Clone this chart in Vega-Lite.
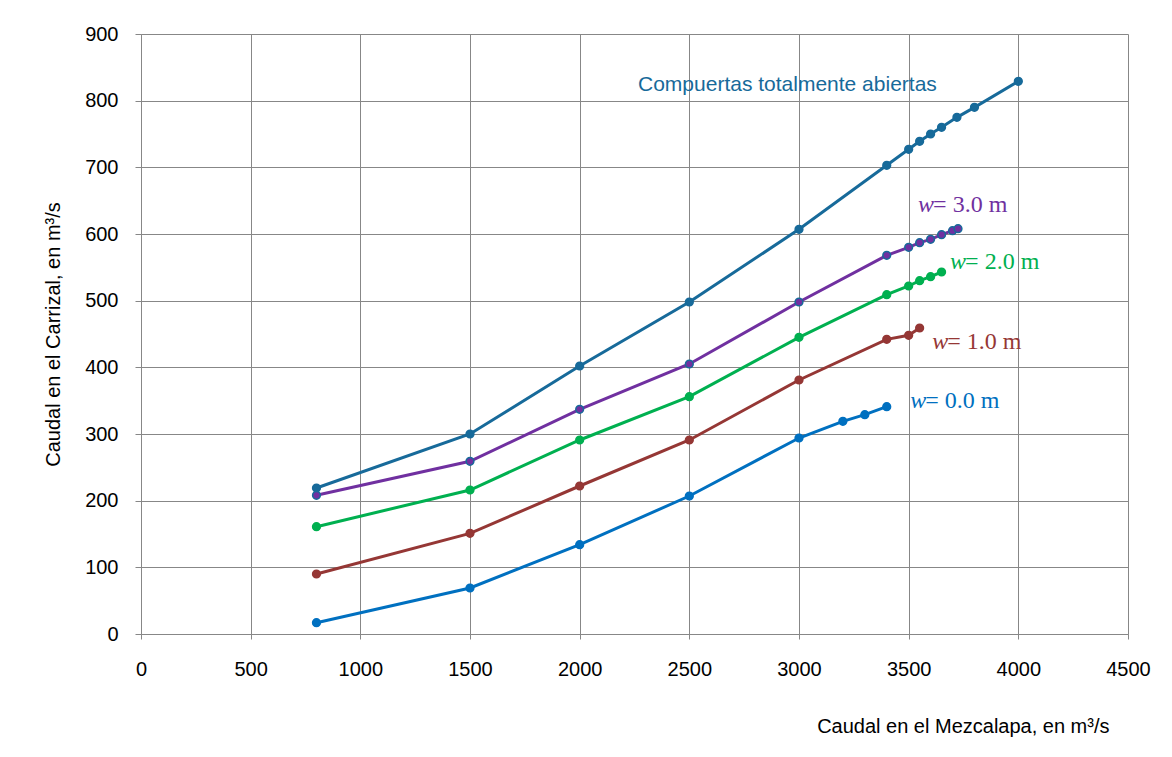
{
  "$schema": "https://vega.github.io/schema/vega-lite/v6.json",
  "width": 987,
  "height": 600,
  "autosize": {"type": "none"},
  "padding": {"left": 141, "top": 34, "right": 44, "bottom": 123},
  "background": "white",
  "config": {
    "view": {"stroke": null},
    "font": "Liberation Sans",
    "axis": {
      "gridColor": "#878787",
      "gridWidth": 1,
      "domainColor": "#878787",
      "tickColor": "#878787",
      "labelFont": "Liberation Sans",
      "labelFontSize": 20,
      "labelColor": "#000000",
      "labelFlush": false,
      "labelOverlap": false,
      "titleFont": "Liberation Sans",
      "titleFontSize": 20,
      "titleFontWeight": "normal",
      "titleColor": "#000000"
    }
  },
  "datasets": {
    "lines": [
      {"series": "abiertas", "q": 800, "c": 219},
      {"series": "abiertas", "q": 1500, "c": 300},
      {"series": "abiertas", "q": 2000, "c": 402},
      {"series": "abiertas", "q": 2500, "c": 498},
      {"series": "abiertas", "q": 3000, "c": 607},
      {"series": "abiertas", "q": 3400, "c": 703},
      {"series": "abiertas", "q": 3500, "c": 727},
      {"series": "abiertas", "q": 3550, "c": 739},
      {"series": "abiertas", "q": 3600, "c": 750},
      {"series": "abiertas", "q": 3650, "c": 760},
      {"series": "abiertas", "q": 3720, "c": 775},
      {"series": "abiertas", "q": 3800, "c": 790},
      {"series": "abiertas", "q": 4000, "c": 829},
      {"series": "w3", "q": 800, "c": 208},
      {"series": "w3", "q": 1500, "c": 259},
      {"series": "w3", "q": 2000, "c": 337},
      {"series": "w3", "q": 2500, "c": 405},
      {"series": "w3", "q": 3000, "c": 498},
      {"series": "w3", "q": 3400, "c": 568},
      {"series": "w3", "q": 3500, "c": 580},
      {"series": "w3", "q": 3550, "c": 587},
      {"series": "w3", "q": 3600, "c": 592},
      {"series": "w3", "q": 3650, "c": 599},
      {"series": "w3", "q": 3700, "c": 605},
      {"series": "w3", "q": 3725, "c": 608},
      {"series": "w2", "q": 800, "c": 161},
      {"series": "w2", "q": 1500, "c": 216},
      {"series": "w2", "q": 2000, "c": 291},
      {"series": "w2", "q": 2500, "c": 356},
      {"series": "w2", "q": 3000, "c": 445},
      {"series": "w2", "q": 3400, "c": 509},
      {"series": "w2", "q": 3500, "c": 522},
      {"series": "w2", "q": 3550, "c": 530},
      {"series": "w2", "q": 3600, "c": 536},
      {"series": "w2", "q": 3650, "c": 543},
      {"series": "w1", "q": 800, "c": 90},
      {"series": "w1", "q": 1500, "c": 151},
      {"series": "w1", "q": 2000, "c": 222},
      {"series": "w1", "q": 2500, "c": 291},
      {"series": "w1", "q": 3000, "c": 381},
      {"series": "w1", "q": 3400, "c": 442},
      {"series": "w1", "q": 3500, "c": 448},
      {"series": "w1", "q": 3550, "c": 459},
      {"series": "w0", "q": 800, "c": 17},
      {"series": "w0", "q": 1500, "c": 69},
      {"series": "w0", "q": 2000, "c": 134},
      {"series": "w0", "q": 2500, "c": 207},
      {"series": "w0", "q": 3000, "c": 294},
      {"series": "w0", "q": 3200, "c": 319},
      {"series": "w0", "q": 3300, "c": 329},
      {"series": "w0", "q": 3400, "c": 341}
    ],
    "wlabels": [
      {"series": "w3", "q": 3543, "c": 643, "pre": "w", "rest": "= 3.0 m"},
      {"series": "w2", "q": 3689, "c": 558, "pre": "w", "rest": "= 2.0 m"},
      {"series": "w1", "q": 3607, "c": 438, "pre": "w", "rest": "= 1.0 m"},
      {"series": "w0", "q": 3507, "c": 349, "pre": "w", "rest": "= 0.0 m"}
    ],
    "title": [
      {"series": "abiertas", "q": 2266, "c": 823, "label": "Compuertas totalmente abiertas"}
    ]
  },
  "layer": [
    {
      "data": {"name": "lines"},
      "mark": {"type": "line", "strokeWidth": 3},
      "encoding": {
        "x": {
          "field": "q", "type": "quantitative",
          "scale": {"domain": [0, 4500], "nice": false},
          "axis": {
            "values": [0, 500, 1000, 1500, 2000, 2500, 3000, 3500, 4000, 4500],
            "format": "d",
            "title": "Caudal en el Mezcalapa, en m³/s",
            "titleAlign": "right",
            "titleAnchor": null,
            "titleBaseline": "alphabetic",
            "titleX": 968,
            "titleY": 98,
            "tickSize": 5,
            "labelPadding": 20,
            "grid": true
          }
        },
        "y": {
          "field": "c", "type": "quantitative",
          "scale": {"domain": [0, 900], "nice": false},
          "axis": {
            "values": [0, 100, 200, 300, 400, 500, 600, 700, 800, 900],
            "format": "d",
            "title": "Caudal en el Carrizal, en m³/s",
            "tickSize": 6,
            "labelPadding": 17,
            "titlePadding": 21,
            "grid": true
          }
        },
        "color": {
          "field": "series", "type": "nominal",
          "scale": {"domain": ["abiertas", "w3", "w2", "w1", "w0"], "range": ["#176A9A", "#7030A0", "#00B050", "#953735", "#0070C0"]},
          "legend": null
        },
        "detail": {"field": "series"}
      }
    },
    {
      "data": {"name": "lines"},
      "mark": {"type": "point", "filled": true, "size": 60, "strokeWidth": 1.5, "opacity": 1},
      "encoding": {
        "x": {"field": "q", "type": "quantitative"},
        "y": {"field": "c", "type": "quantitative"},
        "fill": {
          "field": "series", "type": "nominal",
          "scale": {"domain": ["abiertas", "w3", "w2", "w1", "w0"], "range": ["#176A9A", "#7030A0", "#00B050", "#953735", "#0070C0"]},
          "legend": null
        },
        "stroke": {
          "field": "series", "type": "nominal",
          "scale": {"domain": ["abiertas", "w3", "w2", "w1", "w0"], "range": ["#176A9A", "#176A9A", "#00B050", "#953735", "#0070C0"]},
          "legend": null
        }
      }
    },
    {
      "data": {"name": "title"},
      "mark": {"type": "text", "align": "left", "baseline": "middle", "font": "Liberation Sans", "fontSize": 21},
      "encoding": {
        "x": {"field": "q", "type": "quantitative"},
        "y": {"field": "c", "type": "quantitative"},
        "text": {"field": "label"},
        "color": {"field": "series", "type": "nominal", "legend": null}
      }
    },
    {
      "data": {"name": "wlabels"},
      "mark": {"type": "text", "align": "left", "baseline": "middle", "font": "Liberation Serif", "fontSize": 24, "fontStyle": "italic"},
      "encoding": {
        "x": {"field": "q", "type": "quantitative"},
        "y": {"field": "c", "type": "quantitative"},
        "text": {"field": "pre"},
        "color": {"field": "series", "type": "nominal", "legend": null}
      }
    },
    {
      "data": {"name": "wlabels"},
      "mark": {"type": "text", "align": "left", "baseline": "middle", "font": "Liberation Serif", "fontSize": 24, "dx": 15},
      "encoding": {
        "x": {"field": "q", "type": "quantitative"},
        "y": {"field": "c", "type": "quantitative"},
        "text": {"field": "rest"},
        "color": {"field": "series", "type": "nominal", "legend": null}
      }
    }
  ]
}
